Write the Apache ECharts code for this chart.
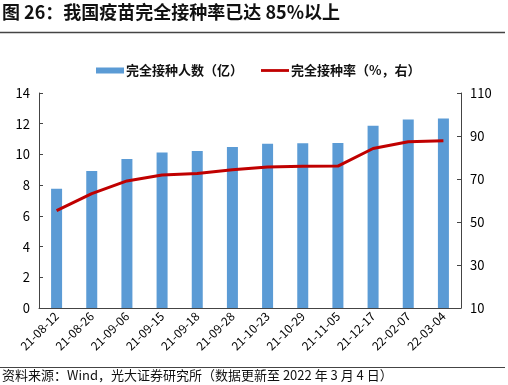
<!DOCTYPE html>
<html><head><meta charset="utf-8">
<script src="https://cdn.jsdelivr.net/npm/echarts@6/dist/echarts.min.js"></script>
<style>html,body{margin:0;padding:0;background:#fff}#c{width:508px;height:385px}</style>
</head><body><div id="c"></div>
<script>
const categories = ['21-08-12','21-08-26','21-09-06','21-09-15','21-09-18','21-09-28','21-10-23','21-10-29','21-11-05','21-12-17','22-02-07','22-03-04'];
const vaccinatedPeople = [7.77, 8.92, 9.70, 10.13, 10.22, 10.48, 10.70, 10.72, 10.74, 11.87, 12.28, 12.34];
const vaccinationRate = [55.3, 63.2, 69.1, 71.9, 72.6, 74.3, 75.6, 75.9, 76.0, 84.2, 87.3, 87.8];
const leftTicks = [0, 14, 2];
const rightTicks = [10, 110, 20];
const font = '"Noto Sans CJK SC", "Noto Sans", sans-serif';

const chart = echarts.init(document.getElementById('c'), null, {renderer: 'canvas'});
chart.setOption({
  animation: false,
  textStyle: {fontFamily: font},
  grid: {left: 39, right: 47, top: 93, bottom: 77},
  legend: {
    top: 59, left: 91, itemGap: 18, itemWidth: 28, itemHeight: 6,
    textStyle: {fontSize: 13, color: '#111', fontFamily: font, fontWeight: 'bold', padding: [0, 0, 0, -3]},
    data: [
      {name: '完全接种人数（亿）', icon: 'rect'},
      {name: '完全接种率（%，右）', icon: 'path://M0,0 L30,0 L30,3 L0,3 Z'}
    ]
  },
  xAxis: {
    type: 'category', data: categories,
    axisLine: {lineStyle: {color: '#444', width: 1}},
    axisTick: {inside: true, length: 4, lineStyle: {color: '#444'}},
    axisLabel: {rotate: 45, fontSize: 12, color: '#000', margin: 6, interval: 0}
  },
  yAxis: [
    {type: 'value', min: leftTicks[0], max: leftTicks[1], interval: leftTicks[2],
     splitLine: {show: false},
     axisLine: {show: true, lineStyle: {color: '#444'}},
     axisTick: {show: true, inside: true, length: 4, lineStyle: {color: '#444'}},
     axisLabel: {fontSize: 13, color: '#000', margin: 9}},
    {type: 'value', min: rightTicks[0], max: rightTicks[1], interval: rightTicks[2],
     splitLine: {show: false},
     axisLine: {show: true, lineStyle: {color: '#444'}},
     axisTick: {show: true, inside: true, length: 4, lineStyle: {color: '#444'}},
     axisLabel: {fontSize: 13, color: '#000', margin: 9}}
  ],
  series: [
    {name: '完全接种人数（亿）', type: 'bar', data: vaccinatedPeople, barWidth: 11,
     itemStyle: {color: '#5B9BD5'}},
    {name: '完全接种率（%，右）', type: 'line', yAxisIndex: 1, data: vaccinationRate,
     symbol: 'none', lineStyle: {color: '#C00000', width: 3}, itemStyle: {color: '#C00000'}}
  ],
  graphic: [
    {type: 'text', left: 2, top: 3, style: {text: '图 26：我国疫苗完全接种率已达 85%以上', font: 'bold 18px ' + font, fill: '#111'}},
    {type: 'line', shape: {x1: 0, y1: 32.5, x2: 505, y2: 32.5}, style: {stroke: '#444', lineWidth: 1.5}},
    {type: 'line', shape: {x1: 0, y1: 367.5, x2: 505, y2: 367.5}, style: {stroke: '#444', lineWidth: 1}},
    {type: 'text', left: 2, top: 369, style: {text: '资料来源：Wind，光大证券研究所（数据更新至 2022 年 3 月 4 日）', font: '13px ' + font, fill: '#111'}}
  ]
});
</script></body></html>
